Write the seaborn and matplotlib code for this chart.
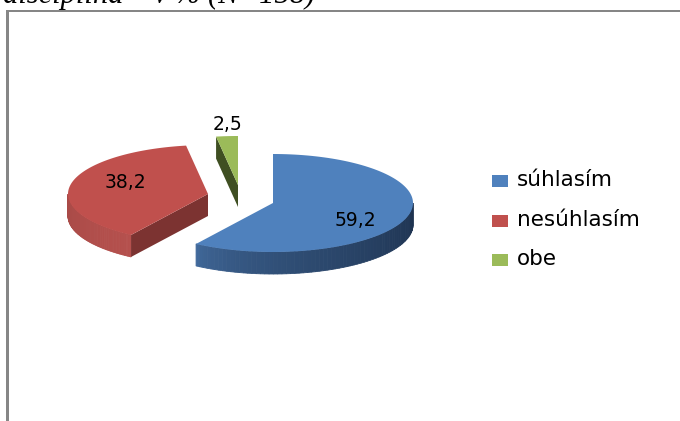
import numpy as np
import matplotlib
matplotlib.use("Agg")
import matplotlib.pyplot as plt
from matplotlib.colors import to_rgb
import seaborn as sns

categories = ["súhlasím", "nesúhlasím", "obe"]
values = [59.2, 38.2, 2.5]
value_labels = ["59,2", "38,2", "2,5"]
title_text = "disciplína – v % (N=158)"

sns.set_theme(style="white")
colors = sns.color_palette(["#4f81bd", "#c0504d", "#9bbb59"])

fig = plt.figure(figsize=(6.8, 4.21), dpi=100)
ax = fig.add_axes([0, 0, 1, 1])
ax.set_xlim(0, 680)
ax.set_ylim(421, 0)
ax.axis("off")

# pie ellipse, depth and the exploded centres of the slices
rx, ry, depth = 140, 49, 22
centers = [(273, 203), (208, 194), (238, 185)]

# angles run clockwise from 12 o'clock, y axis is flipped
fracs = np.array(values) / sum(values)
edges = 90 - 360 * np.concatenate([[0], np.cumsum(fracs)])


def arc(c, a0, a1, n=120):
    t = np.radians(np.linspace(a0, a1, n))
    return c[0] + rx * np.cos(t), c[1] - ry * np.sin(t)


def wall(c, a0, a1, col0, col1, n=70, power=1.0):
    # side of a slice as thin strips, so the shading runs along it
    x, y = arc(c, a0, a1, n + 1)
    col0, col1 = np.array(to_rgb(col0)), np.array(to_rgb(col1))
    for i in range(n):
        col = col0 + (col1 - col0) * (i / (n - 1)) ** power
        ax.fill([x[i], x[i + 1], x[i + 1], x[i]],
                [y[i], y[i + 1], y[i + 1] + depth, y[i] + depth],
                color=col, lw=0.6, zorder=2)


def cut_face(c, angle, col):
    tx, ty = arc(c, angle, angle, 1)
    ax.fill([c[0], tx[0], tx[0], c[0]],
            [c[1], ty[0], ty[0] + depth, c[1] + depth],
            color=col, lw=0, zorder=2)


def top(c, a0, a1, col):
    x, y = arc(c, a0, a1)
    ax.fill(np.r_[c[0], x], np.r_[c[1], y], color=col, lw=0, zorder=3)


# blue
wall(centers[0], edges[1], 0, "#41699b", "#1e3350", power=0.6)
top(centers[0], edges[0], edges[1], colors[0])

# red, the arc wall and the cut face
wall(centers[1], 180, 360 + edges[1], "#a84a47", "#b5504d")
cut_face(centers[1], edges[1], "#7c3331")
top(centers[1], edges[1], edges[2], colors[1])

# green, only the left cut face shows
cut_face(centers[2], edges[2], "#3f4f22")
top(centers[2], edges[2], edges[3], colors[2])

# value labels
font = "DejaVu Sans"
ax.text(355, 220, value_labels[0], fontsize=13.5, ha="center", va="center", color="black", family=font, zorder=5)
ax.text(125, 183, value_labels[1], fontsize=13.5, ha="center", va="center", color="black", family=font, zorder=5)
ax.text(227, 125, value_labels[2], fontsize=13.5, ha="center", va="center", color="black", family=font, zorder=5)

# legend
for i, name in enumerate(categories):
    y = 181 + 39.5 * i
    ax.add_patch(plt.Rectangle((492, y - 6), 16, 12, color=colors[i], lw=0))
    ax.text(517, y - 1, name, fontsize=15.5, ha="left", va="center", color="black", family=font)

# frame of the pasted chart and the cut off caption above it
ax.add_patch(plt.Rectangle((6, 10), 3, 411, color="#868686", lw=0))
ax.add_patch(plt.Rectangle((6, 10), 674, 2, color="#868686", lw=0))
ax.text(3, 3.5, title_text, fontsize=22, style="italic", family="Liberation Serif", color="black", ha="left", va="baseline")

fig.savefig("out.png", dpi=100)
